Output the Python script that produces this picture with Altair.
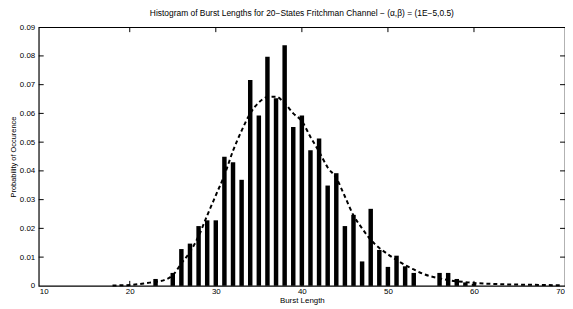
import altair as alt
import pandas as pd

# ---- data ----
bar_x = [23, 25, 26, 27, 28, 29, 30, 31, 32, 33, 34, 35, 36, 37, 38, 39, 40,
         41, 42, 43, 44, 45, 46, 47, 48, 49, 50, 51, 52, 53, 56, 57, 58, 59, 60]
bar_y = [0.0024, 0.0045, 0.0128, 0.0147, 0.0208, 0.0228, 0.0228, 0.0449, 0.0430,
         0.0369, 0.0716, 0.0593, 0.0797, 0.0653, 0.0837, 0.0553, 0.0593, 0.0472,
         0.0513, 0.0349, 0.0392, 0.0208, 0.0247, 0.0085, 0.0268, 0.0125, 0.0066,
         0.0105, 0.0068, 0.0045, 0.0045, 0.0045, 0.0024, 0.0012, 0.0007]

curve_x = [18, 19, 20, 21, 22, 23, 24, 25, 26, 27, 28, 29, 30, 31, 32, 33, 34, 35,
           36, 37, 38, 39, 40, 41, 42, 43, 44, 45, 46, 47, 48, 49, 50, 51, 52, 53,
           54, 55, 56, 57, 58, 59, 60, 62, 64, 66, 68, 70]
curve_y = [0.0001, 0.0002, 0.0003, 0.0006, 0.0010, 0.0014, 0.0020, 0.0037, 0.0078,
           0.0118, 0.0173, 0.0245, 0.0315, 0.0385, 0.0470, 0.0540, 0.0600, 0.0638,
           0.0657, 0.0658, 0.0635, 0.0600, 0.0573, 0.0518, 0.0467, 0.0412, 0.0375,
           0.0311, 0.0245, 0.0200, 0.0160, 0.0132, 0.0110, 0.0090, 0.0072, 0.0057,
           0.0043, 0.0033, 0.0026, 0.0020, 0.0016, 0.0013, 0.0010, 0.0007, 0.0005,
           0.0004, 0.0003, 0.0002]

x_ticks = [10, 20, 30, 40, 50, 60, 70]
y_ticks = [0, 0.01, 0.02, 0.03, 0.04, 0.05, 0.06, 0.07, 0.08, 0.09]

title_text = "Histogram of Burst Lengths for 20\u2212States Fritchman Channel \u2212 (\u03b1,\u03b2) = (1E\u22125,0.5)"
x_title = "Burst Length"
y_title = "Probability of Occurence"

W, H = 531, 261
FONT = "Liberation Sans"

bars_df = pd.DataFrame({"x": bar_x, "y": bar_y})
curve_df = pd.DataFrame({"x": curve_x, "y": curve_y})
xt_df = pd.DataFrame({"x": x_ticks[1:-1]})
yt_df = pd.DataFrame({"y": y_ticks[1:-1]})

xs = alt.Scale(domain=[10, 70], nice=False, zero=False)
ys = alt.Scale(domain=[0, 0.09], nice=False)

x_axis = alt.Axis(values=x_ticks, title=x_title, ticks=False, grid=False,
                  domain=False, labelPadding=2, titlePadding=1,
                  labelFontSize=8, titleFontSize=8, labelColor="black",
                  titleColor="black", titleFontWeight="normal",
                  labelFont=FONT, titleFont=FONT, labelFlush=False)
y_axis = alt.Axis(values=y_ticks, title=y_title, ticks=False, grid=False,
                  domain=False, labelPadding=4, titlePadding=2, format=".2~f",
                  labelFontSize=8, titleFontSize=7.5, labelColor="black",
                  titleColor="black", titleFontWeight="normal",
                  labelFont=FONT, titleFont=FONT, labelFlush=False)

X = alt.X("x:Q", scale=xs, axis=x_axis, title=x_title)
Y = alt.Y("y:Q", scale=ys, axis=y_axis, title=y_title)

bars = alt.Chart(bars_df).mark_bar(color="black", size=4.5).encode(x=X, y=Y)

curve = alt.Chart(curve_df).mark_line(
    color="black", strokeWidth=2, strokeDash=[4, 3], interpolate="monotone"
).encode(x=X, y=Y)

tick_b = alt.Chart(xt_df).mark_rule(color="black", strokeWidth=1).encode(
    x=X, y=alt.value(H), y2=alt.value(H - 5))
tick_t = alt.Chart(xt_df).mark_rule(color="black", strokeWidth=1).encode(
    x=X, y=alt.value(0), y2=alt.value(5))
tick_l = alt.Chart(yt_df).mark_rule(color="black", strokeWidth=1).encode(
    y=Y, x=alt.value(0), x2=alt.value(5))
tick_r = alt.Chart(yt_df).mark_rule(color="black", strokeWidth=1).encode(
    y=Y, x=alt.value(W), x2=alt.value(W - 5))

chart = alt.layer(bars, curve, tick_b, tick_t, tick_l, tick_r).properties(
    width=W, height=H,
    title=alt.TitleParams(title_text, fontSize=8.5, font=FONT, fontWeight="normal",
                          color="black", anchor="middle", offset=6),
    autosize=alt.AutoSizeParams(type="none"),
    padding={"left": 31, "top": 18, "right": 0, "bottom": 22},
    background="white",
).configure_view(stroke="black", strokeWidth=1.2)

chart.save("out.html", embed_options={"renderer": "svg", "actions": False})
